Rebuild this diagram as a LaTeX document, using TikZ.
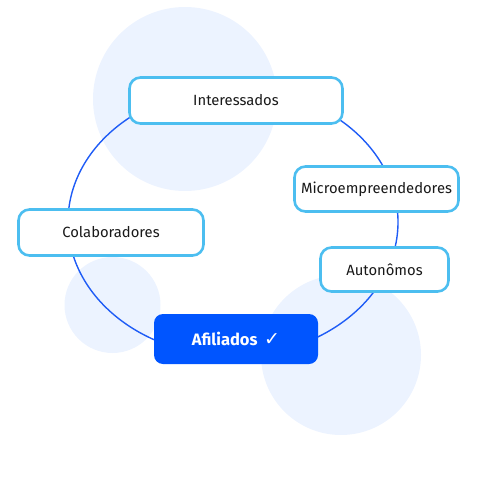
\documentclass[tikz,border=0pt]{standalone}
\usepackage{fontspec}
\setmainfont{Fira Sans}
\newfontfamily\symfont{DejaVu Sans}
\definecolor{ringblue}{HTML}{1F5CF6}
\definecolor{edgeblue}{HTML}{4CBEF0}
\definecolor{mainblue}{HTML}{0055FF}
\definecolor{softblue}{HTML}{ECF3FF}
\begin{document}
\begin{tikzpicture}[x=1pt,y=-1pt,
  tag/.style={draw=edgeblue,line width=2.6pt,fill=white,rounded corners=11pt,
    font=\fontsize{14.8}{18}\selectfont,text=black!90,inner sep=0pt},
  picked/.style={fill=mainblue,rounded corners=9pt,text=white,
    font=\fontsize{16.5}{19}\selectfont\bfseries,inner sep=0pt}]
  \useasboundingbox (0,0) rectangle (500,500);
  % soft discs
  \fill[softblue] (185,99) circle (92);
  \fill[softblue] (112.5,305) circle (48);
  \fill[softblue] (341,355) circle (80);
  % ring
  \draw[ringblue,line width=1.4pt] (233,222) ellipse (165 and 134);
  % labels
  \node[tag,minimum width=213pt,minimum height=46pt] (int) at (236,100.5) {Interessados};
  \node[tag,minimum width=164pt,minimum height=45pt] (mic) at (376.5,189) {Microempreendedores};
  \node[tag,minimum width=128pt,minimum height=44pt] (aut) at (384.5,269.5) {Autonômos};
  \node[tag,minimum width=185pt,minimum height=46pt] (col) at (111,232.5) {Colaboradores};
  \node[picked,minimum width=164pt,minimum height=50pt] (afi) at (236,339) {Afiliados\, {\symfont\bfseries\fontsize{19}{19}\selectfont ✓}};
\end{tikzpicture}
\end{document}
